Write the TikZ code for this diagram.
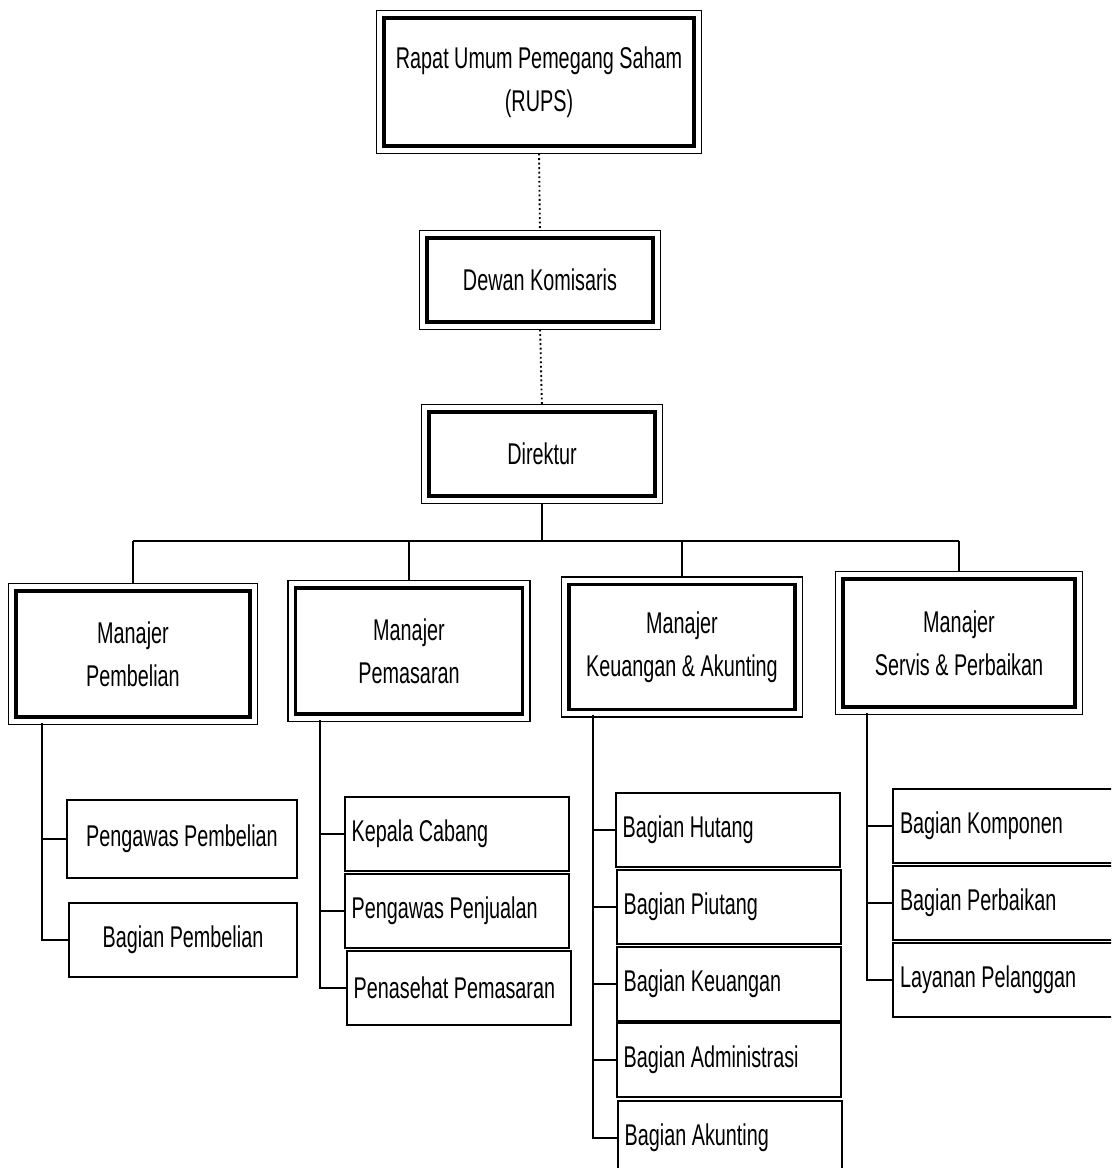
\documentclass[tikz,border=0pt]{standalone}
\usepackage{fontspec}
\setmainfont{Liberation Sans}[FakeStretch=0.66]

\tikzset{every picture/.style={line width=0.75pt}}
\tikzset{
  boxfont/.style={font=\fontsize{22.5}{32}\selectfont},
  headbox/.style={boxfont, draw, line width=2.4pt, align=center, inner sep=0pt},
  subbox/.style={boxfont, draw, line width=1.6pt, minimum height=55.5pt, inner sep=0pt},
  leftbox/.style={subbox, text width=158pt, inner xsep=5pt, align=flush left},
  link/.style={line width=1.4pt},
  dotlink/.style={line width=1.4pt, dotted},
}

\begin{document}
\begin{tikzpicture}[x=0.75pt,y=0.75pt,yscale=-1,xscale=1]
\useasboundingbox (0,0) rectangle (1111,1168);
\clip (0,0) rectangle (1111,1168);

%Shape: Rectangle [top level]
\node [headbox, minimum width=232.5pt, minimum height=96pt] (rups) at (539,82) {Rapat Umum Pemegang Saham\\(RUPS)};
\node [headbox, minimum width=169.5pt, minimum height=63pt] (dewan) at (540,280) {Dewan Komisaris};
\node [headbox, minimum width=169.5pt, minimum height=63pt] (direktur) at (542,454) {Direktur};

%Shape: Rectangle [managers]
\node [headbox, minimum width=175.5pt, minimum height=94.5pt] (mPemb) at (133,654) {Manajer\\Pembelian};
\node [headbox, minimum width=170pt, minimum height=94.5pt] (mPemas) at (409,651) {Manajer\\Pemasaran};
\node [headbox, minimum width=169.5pt, minimum height=94pt] (mKeu) at (682,647) {Manajer\\Keuangan \& Akunting};
\node [headbox, minimum width=174pt, minimum height=96pt] (mServis) at (959,643) {Manajer\\Servis \& Perbaikan};

% outer frames
\foreach \n in {rups,dewan,direktur,mPemb,mPemas,mKeu,mServis}
  \draw [line width=1.2pt] ([shift={(-6,-6)}]\n.north west) rectangle ([shift={(6,6)}]\n.south east);

%Shape: Rectangle [sections]
\node [subbox, minimum width=172.5pt, minimum height=58.5pt] (pengawasPemb) at (182,839) {Pengawas Pembelian};
\node [subbox, minimum width=171pt] (bagianPemb) at (183,940) {Bagian Pembelian};

\node [leftbox] (kepala) at (457,834) {Kepala Cabang};
\node [leftbox] (pengawasPenj) at (457,911) {Pengawas Penjualan};
\node [leftbox] (penasehat) at (459,988) {Penasehat Pemasaran};

\node [leftbox] (hutang) at (728,830) {Bagian Hutang};
\node [leftbox] (piutang) at (729,907) {Bagian Piutang};
\node [leftbox] (keuangan) at (729,984) {Bagian Keuangan};
\node [leftbox] (admin) at (729,1060) {Bagian Administrasi};
\node [leftbox] (akunting) at (730,1138) {Bagian Akunting};

\node [leftbox, text width=162pt] (komponen) at (1008,826) {Bagian Komponen};
\node [leftbox, text width=162pt] (perbaikan) at (1008,903) {Bagian Perbaikan};
\node [leftbox, text width=162pt] (layanan) at (1008,980) {Layanan Pelanggan};

%Straight Lines [dotted]
\draw [dotlink, shorten <=4.5pt, shorten >=4.5pt] (rups.south) -- (dewan.north);
\draw [dotlink, shorten <=4.5pt, shorten >=4.5pt] (dewan.south) -- (direktur.north);

%Straight Lines [bus]
\coordinate (bus) at (0,541);
\draw [link, shorten <=4.5pt] (direktur.south) -- (direktur.south |- bus);
\draw [link] (mPemb.north |- bus) -- (mServis.north |- bus);
\foreach \n in {mPemb,mPemas,mKeu,mServis}
  \draw [link, shorten >=4.5pt] (\n.north |- bus) -- (\n.north);

%Straight Lines [branches]
\coordinate (tPemb) at (42,723);
\coordinate (tPemas) at (320,720);
\coordinate (tKeu) at (593,715);
\coordinate (tServis) at (867,713);

\draw [link] (tPemb) |- (bagianPemb.west);
\draw [link] (tPemb |- pengawasPemb.west) -- (pengawasPemb.west);

\draw [link] (tPemas) |- (penasehat.west);
\foreach \n in {kepala,pengawasPenj}
  \draw [link] (tPemas |- \n.west) -- (\n.west);

\draw [link] (tKeu) |- (akunting.west);
\foreach \n in {hutang,piutang,keuangan,admin}
  \draw [link] (tKeu |- \n.west) -- (\n.west);

\draw [link] (tServis) |- (layanan.west);
\foreach \n in {komponen,perbaikan}
  \draw [link] (tServis |- \n.west) -- (\n.west);

\end{tikzpicture}
\end{document}
